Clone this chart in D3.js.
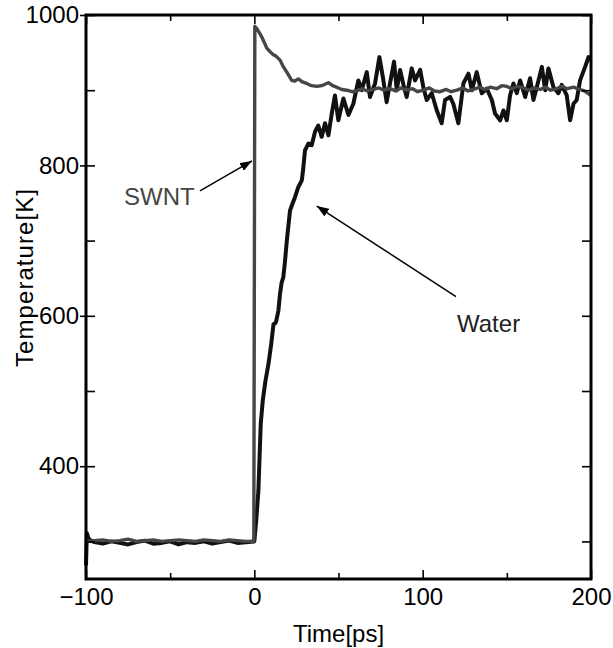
<!DOCTYPE html>
<html lang="en">
<head>
    <meta charset="UTF-8">
    <title>SWNT / Water Temperature</title>
    <script src="https://d3js.org/d3.v7.min.js"></script>
    <style>
        body { margin: 0; background: #fff; }
        svg { display: block; font-family: "Liberation Sans", Arial, sans-serif; }
        .tick text { font-size: 24px; fill: #000; }
        .tick line { stroke: #000; stroke-width: 1.6px; }
        .axis-title { font-size: 24px; fill: #000; }
    </style>
</head>
<body>
    <svg id="chart" width="613" height="648"></svg>

    <script>
        // Water temperature (black curve)
        const waterTime = [-100, -99.5, -98.5, -97, -95, -90, -85, -80, -75, -70, -65, -60, -55, -50, -45, -40, -35, -30, -25, -20, -15, -10, -5, 0,
            1.2, 2.4, 3.8, 5, 6.5, 8.4, 10, 11.4, 12.4, 13, 14.3, 15.3, 16.2, 17.2, 18.2, 19.3, 21.2, 22.5, 24.2, 26.1, 28.2, 29, 30.1,
            32.1, 34.1, 36.1, 38, 40, 42, 44, 46, 47.9, 49.9, 52.9, 55.9, 58.8, 61.8, 63.8, 66.8, 68.7, 71.7, 74.3, 76.3, 78.6, 80.6,
            83, 84.6, 86.6, 88.6, 90.5, 93.5, 95.5, 98.5, 100.4, 102.4, 105.4, 108.4, 111.3, 113.3, 116.3, 118.2, 121.2, 124.2, 127.2,
            129.2, 132.1, 135.1, 138.1, 141.1, 143, 146, 148, 150, 151.9, 153.9, 155.9, 157.9, 160.9, 163.8, 165.8, 167.8, 170.8,
            172.8, 174.7, 177.7, 180.6, 182.6, 185.6, 187.6, 189.6, 191.5, 193.5, 196.5, 198.5, 200];
        const waterTemp = [268, 311, 304, 301, 299, 297, 300, 298, 296, 299, 301, 297, 298, 300, 296, 299, 298, 300, 297, 299, 301, 298, 299, 300,
            330, 367, 456, 487, 512, 536, 562, 589, 590, 593, 607, 630, 644, 651, 672, 700, 740, 748, 758, 771, 780, 795, 820,
            829, 827, 845, 853, 838, 856, 840, 869, 893, 860, 889, 867, 882, 913, 900, 924, 891, 909, 944, 918, 884, 909,
            938, 900, 927, 907, 891, 929, 913, 927, 904, 887, 896, 873, 856, 887, 891, 882, 856, 909, 922,
            900, 924, 896, 902, 887, 869, 860, 873, 860, 893, 909, 896, 913, 891, 916, 887, 904, 931,
            900, 929, 904, 896, 907, 893, 860, 882, 887, 913, 931, 944, 940];

        // SWNT temperature (grey curve)
        const swntTime = [-100, -99, -95, -90, -85, -80, -75, -70, -65, -60, -55, -50, -45, -40, -35, -30, -25, -20, -15, -10, -5, -0.3,
            0.3, 1.5, 3.4, 5, 7.4, 9, 11.3, 13, 15.3, 17, 19.3, 22.2, 24, 26.1, 28.5, 31.1, 34, 37.1, 40, 42, 44, 46.5, 48.9, 52,
            54.9, 58, 60.8, 64, 67, 70.7, 74, 77, 80.6, 84, 87, 90.5, 94, 97, 100.4, 104, 107, 110.3, 114, 117, 120.3, 124, 127,
            130.1, 134, 137, 140, 144, 147, 150, 153, 156, 159.9, 163, 166, 169.8, 173, 176, 179.7, 183, 186, 189.7, 193, 196, 198, 200];
        const swntTemp = [303, 300, 301, 302, 300, 301, 303, 300, 301, 302, 300, 301, 302, 301, 300, 302, 301, 300, 302, 301, 300, 300,
            985, 982, 975, 968, 956, 952, 947, 945, 940, 932, 924, 913, 912, 915, 911, 909, 906, 905, 906, 908, 910, 906, 904, 901,
            900, 898, 899, 902, 899, 901, 903, 900, 902, 899, 903, 900, 902, 898, 900, 903, 899, 898, 901, 898, 900, 903, 899,
            901, 904, 901, 904, 902, 906, 905, 902, 905, 903, 900, 903, 901, 904, 900, 902, 905, 902, 904, 901, 899, 896, 893];

        // tick values
        const xMajorTicks = [-100, 0, 100, 200];
        const xMinorTicks = [-50, 50, 150];
        const yMajorTicks = [400, 600, 800, 1000];
        const yMinorTicks = [300, 500, 700, 900];

        // annotations: label, arrow tail, arrow tip (data units)
        const labelNames = ['SWNT', 'Water'];
        const labelPos = [[-77.4, 747], [120.4, 578.5]];
        const arrowFrom = [[-32.3, 766], [119.8, 625.4]];
        const arrowTo = [[-1.4, 806], [37.1, 746]];
        const labelColors = ['#454545', '#222'];

        const margin = { top: 15, right: 22, bottom: 69, left: 86 };
        const width = 613 - margin.left - margin.right;
        const height = 648 - margin.top - margin.bottom;

        const svg = d3.select('#chart')
            .append('g')
            .attr('transform', `translate(${margin.left},${margin.top})`);

        const x = d3.scaleLinear().domain([-100, 200]).range([0, width]);
        const y = d3.scaleLinear().domain([250, 1000]).range([height, 0]);
        const fmt = d3.format('d');

        // curves
        const line = d3.line()
            .x(d => x(d[0]))
            .y(d => y(d[1]));

        svg.append('path')
            .datum(waterTime.map((t, i) => [t, waterTemp[i]]))
            .attr('fill', 'none')
            .attr('stroke', '#111')
            .attr('stroke-width', 4)
            .attr('stroke-linejoin', 'round')
            .attr('d', line);

        svg.append('path')
            .datum(swntTime.map((t, i) => [t, swntTemp[i]]))
            .attr('fill', 'none')
            .attr('stroke', '#464646')
            .attr('stroke-width', 3.4)
            .attr('stroke-linejoin', 'round')
            .attr('d', line);

        // axes (ticks point inward, majors on the left also poke outward)
        svg.append('g')
            .attr('transform', `translate(0,${height})`)
            .call(d3.axisBottom(x).tickValues(xMajorTicks).tickSize(-9).tickPadding(9).tickFormat(fmt));
        svg.append('g')
            .attr('transform', `translate(0,${height})`)
            .call(d3.axisBottom(x).tickValues(xMinorTicks).tickSize(-6).tickFormat(''));
        svg.append('g')
            .call(d3.axisTop(x).tickValues(xMajorTicks).tickSize(-9).tickFormat(''));
        svg.append('g')
            .call(d3.axisTop(x).tickValues(xMinorTicks).tickSize(-6).tickFormat(''));

        svg.append('g')
            .call(d3.axisLeft(y).tickValues(yMajorTicks).tickSize(6).tickPadding(1).tickFormat(fmt));
        svg.append('g')
            .call(d3.axisLeft(y).tickValues(yMajorTicks.concat(yMinorTicks)).tickSize(-9).tickFormat(''));
        svg.append('g')
            .attr('transform', `translate(${width},0)`)
            .call(d3.axisRight(y).tickValues(yMajorTicks.concat(yMinorTicks)).tickSize(-9).tickFormat(''));

        svg.selectAll('.domain').remove();

        // frame
        svg.append('rect')
            .attr('width', width)
            .attr('height', height)
            .attr('fill', 'none')
            .attr('stroke', '#000')
            .attr('stroke-width', 3);

        // axis titles
        svg.append('text')
            .attr('class', 'axis-title')
            .attr('x', width / 2)
            .attr('y', height + 63)
            .attr('text-anchor', 'middle')
            .text('Time[ps]');

        svg.append('text')
            .attr('class', 'axis-title')
            .attr('transform', 'rotate(-90)')
            .attr('x', -263)
            .attr('y', -53)
            .attr('text-anchor', 'middle')
            .attr('textLength', 178)
            .text('Temperature[K]');

        // arrows + labels
        svg.append('defs').append('marker')
            .attr('id', 'head')
            .attr('viewBox', '0 0 12 9')
            .attr('refX', 12)
            .attr('refY', 4.5)
            .attr('markerWidth', 12)
            .attr('markerHeight', 9)
            .attr('markerUnits', 'userSpaceOnUse')
            .attr('orient', 'auto')
            .append('path')
            .attr('d', 'M0,0L12,4.5L0,9Z')
            .attr('fill', '#000');

        labelNames.forEach((name, i) => {
            svg.append('line')
                .attr('x1', x(arrowFrom[i][0]))
                .attr('y1', y(arrowFrom[i][1]))
                .attr('x2', x(arrowTo[i][0]))
                .attr('y2', y(arrowTo[i][1]))
                .attr('stroke', '#000')
                .attr('stroke-width', 1.5)
                .attr('marker-end', 'url(#head)');

            svg.append('text')
                .attr('x', x(labelPos[i][0]))
                .attr('y', y(labelPos[i][1]))
                .style('font-size', '24px')
                .attr('fill', labelColors[i])
                .text(name);
        });
    </script>
</body>
</html>
